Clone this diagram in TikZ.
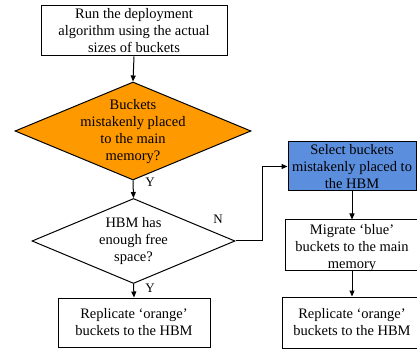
\documentclass[tikz,border=0pt]{standalone}
\usepackage{fontspec}
\setmainfont{Liberation Serif}
\usetikzlibrary{shapes.geometric,arrows.meta}
\definecolor{orangeF}{RGB}{255,153,0}
\definecolor{blueF}{RGB}{92,142,222}
\begin{document}
\begin{tikzpicture}[x=1pt,y=-1pt,
  font=\fontsize{14.5}{17}\selectfont,
  every path/.style={line width=1pt},
  box/.style={draw, rectangle, inner sep=0pt, align=center},
  dia/.style={draw, diamond, inner sep=0pt, shape aspect=1},
  txt/.style={align=center, inner sep=0pt},
  arr/.style={-{Triangle[length=6pt,width=5pt]}},
  lab/.style={inner sep=0pt, font=\fontsize{13}{15}\selectfont}]
\useasboundingbox (0,0) rectangle (417,352);
\node[box, minimum width=186pt, minimum height=50pt] (run) at (134,31) {Run the deployment\\algorithm using the actual\\sizes of buckets};
\node[dia, fill=orangeF, minimum width=236pt, minimum height=98pt] (d1) at (133,131) {};
\node[txt] (t1) at (133,131.5) {Buckets\\mistakenly placed\\to the main\\memory?};
\node[dia, fill=white, minimum width=203pt, minimum height=85pt] (d2) at (133.5,241) {};
\node[txt] (t2) at (133.5,241) {HBM has\\enough free\\space?};
\node[box, minimum width=152pt, minimum height=49pt] (rep1) at (134,322.5) {Replicate ‘orange’\\buckets to the HBM};
\node[box, fill=blueF, minimum width=128pt, minimum height=49pt] (sel) at (352,166.5) {Select buckets\\mistakenly placed to\\the HBM};
\node[box, minimum width=134pt, minimum height=51pt] (mig) at (352,245.5) {};
\node[txt] (tm) at (352,248) {Migrate ‘blue’\\buckets to the main\\memory};
\node[box, minimum width=140pt, minimum height=51pt] (rep2) at (352,322.5) {Replicate ‘orange’\\buckets to the HBM};
\draw[arr] (run.south) -- (d1.north);
\draw[arr] (d1.south) -- (d2.north);
\draw[arr] (d2.south) -- (rep1.north);
\draw[arr] (d2.east) -- ++(27,0) |- (sel.west);
\draw[arr] (sel.south) -- (mig.north);
\draw[arr] (mig.south) -- (rep2.north);
\node[lab] (y1) at (150,182) {Y};
\node[lab] (y2) at (150,288) {Y};
\node[lab] (n1) at (218,219) {N};
\end{tikzpicture}
\end{document}
